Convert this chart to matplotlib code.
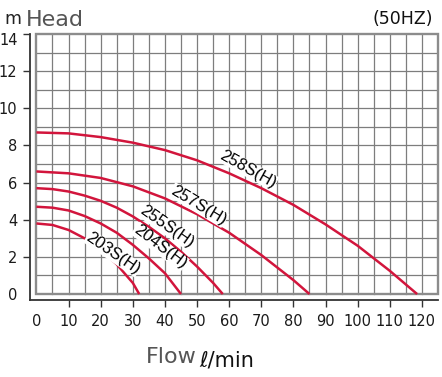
import matplotlib
matplotlib.use("Agg")
import matplotlib.pyplot as plt
from matplotlib.patches import Rectangle
from matplotlib.transforms import ScaledTranslation

# ---- data ----
models = ["258S(H)", "257S(H)", "255S(H)", "204S(H)", "203S(H)"]

flow_258 = [0, 10, 20, 30, 40, 50, 60, 70, 80, 90, 100, 110, 118.5]
head_258 = [8.7, 8.65, 8.45, 8.15, 7.75, 7.2, 6.5, 5.7, 4.8, 3.75, 2.6, 1.25, 0]

flow_257 = [0, 10, 20, 30, 40, 50, 60, 70, 80, 85]
head_257 = [6.6, 6.5, 6.25, 5.8, 5.15, 4.3, 3.3, 2.1, 0.75, 0]

flow_255 = [0, 5, 10, 15, 20, 25, 30, 35, 40, 45, 50, 55, 58]
head_255 = [5.7, 5.65, 5.52, 5.3, 5.02, 4.65, 4.18, 3.62, 3.0, 2.28, 1.48, 0.6, 0]

flow_204 = [0, 5, 10, 15, 20, 25, 30, 35, 40, 45]
head_204 = [4.7, 4.65, 4.5, 4.2, 3.8, 3.3, 2.65, 1.92, 1.12, 0]

flow_203 = [0, 5, 10, 15, 20, 25, 30, 32]
head_203 = [3.8, 3.72, 3.45, 3.0, 2.38, 1.6, 0.6, 0]

x_ticks = [0, 10, 20, 30, 40, 50, 60, 70, 80, 90, 100, 110, 120]
y_ticks = [0, 2, 4, 6, 8, 10, 12, 14]

series = [(flow_258, head_258), (flow_257, head_257), (flow_255, head_255),
          (flow_204, head_204), (flow_203, head_203)]

# ---- figure ----
fig = plt.figure(figsize=(4.42, 3.77), dpi=100)
ax = fig.add_axes([30 / 442, 77 / 377, 408 / 442, 266 / 377])
ax.set_xlim(-2, 125)
ax.set_ylim(-0.32, 14)

grid_c = "#7d7d7d"
for gx in range(5, 125, 5):
    ax.plot([gx, gx], [0, 14], color=grid_c, lw=0.9, zorder=1)
for gy in range(1, 14):
    ax.plot([0, 125], [gy, gy], color=grid_c, lw=0.9, zorder=1)
ax.add_patch(Rectangle((0, 0), 125, 14, fill=False, edgecolor="#8c8c8c",
                       lw=1.7, zorder=2, clip_on=False))

red = "#d2153c"
for fx, hy in series:
    ax.plot(fx, hy, color=red, lw=1.8, zorder=3, solid_capstyle="butt",
            solid_joinstyle="round")

label_pos = [(65.9, 6.73, -29), (50.4, 4.79, -31), (40.5, 3.63, -35),
             (38.5, 2.55, -37), (23.9, 2.19, -34.5)]
for name, (lx, ly, rot) in zip(models, label_pos):
    ax.text(lx, ly, name, rotation=rot, rotation_mode="anchor",
            ha="center", va="center", fontsize=12, family="Liberation Sans",
            color="#000000", zorder=4,
            bbox=dict(facecolor="white", edgecolor="none", pad=0.3))

for s in ["top", "right"]:
    ax.spines[s].set_visible(False)
for s in ["left", "bottom"]:
    ax.spines[s].set_color("#333333")
    ax.spines[s].set_linewidth(1.3)
ax.spines["left"].set_bounds(-0.32, 14)

ax.set_xticks(x_ticks)
ax.set_xticklabels([str(v) for v in x_ticks])
ax.set_yticks(y_ticks)
ax.set_yticklabels([str(v) for v in y_ticks])
ax.tick_params(axis="both", direction="out", length=5, width=1.0,
               color="#333333", labelsize=10.5, labelcolor="#1a1a1a")
ax.tick_params(axis="x", pad=5)
ax.tick_params(axis="y", pad=4)
for lab in ax.get_xticklabels() + ax.get_yticklabels():
    lab.set_family("DejaVu Sans")
ax.xaxis.get_major_ticks()[0].tick1line.set_visible(False)
ax.yaxis.get_major_ticks()[0].tick1line.set_visible(False)
# the top "14" label sits a little lower in the reference
top_lab = ax.yaxis.get_major_ticks()[-1].label1
top_lab.set_transform(top_lab.get_transform() +
                      ScaledTranslation(0, -5 / 100, fig.dpi_scale_trans))

# ---- texts ----
fig.text(4 / 442, 1 - 24.5 / 377, "m", fontsize=12.5, color="#222222",
         family="DejaVu Sans", va="baseline", ha="left")
fig.text(26 / 442, 1 - 25.5 / 377, "Head", fontsize=16, color="#555555",
         family="DejaVu Sans", va="baseline", ha="left")
fig.text(433 / 442, 1 - 24 / 377, "(50HZ)", fontsize=12.5, color="#111111",
         family="DejaVu Sans", va="baseline", ha="right")
fig.text(146 / 442, 1 - 363 / 377, "Flow", fontsize=16, color="#555555",
         family="DejaVu Sans", va="baseline", ha="left")
fig.text(199 / 442, 1 - 366 / 377, "ℓ/min", fontsize=15, color="#111111",
         family="DejaVu Sans", va="baseline", ha="left")

fig.savefig("out.png", dpi=100)
